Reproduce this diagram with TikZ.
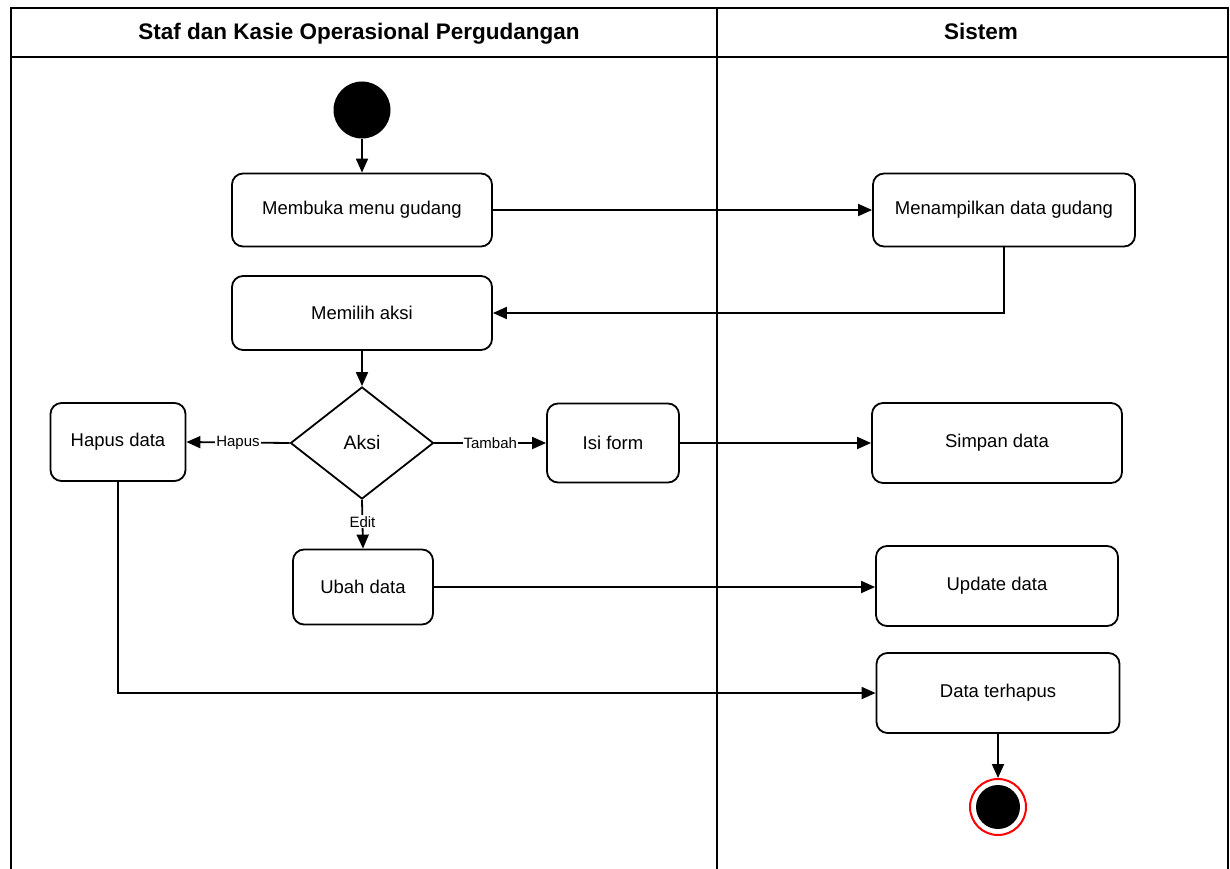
\documentclass[tikz,border=0pt]{standalone}
\usepackage{fontspec}
\setmainfont{Liberation Sans}
\usetikzlibrary{shapes.geometric,arrows.meta}
\begin{document}
\begin{tikzpicture}[x=1pt,y=-1pt,
  lane/.style={line width=1.8pt},
  lanetitle/.style={anchor=base,font=\fontsize{22.5}{26}\selectfont\bfseries},
  act/.style={draw,line width=1.8pt,rounded corners=11pt,fill=white,align=center,
    font=\fontsize{18.5}{22}\selectfont,inner sep=0pt},
  flow/.style={line width=1.8pt,-{Triangle[length=14pt,width=12pt]}},
  guard/.style={fill=white,inner sep=1pt,font=\fontsize{15}{18}\selectfont},
  decision/.style={draw,diamond,line width=1.8pt,fill=white,inner sep=0pt,
    minimum width=143pt,minimum height=112pt,font=\fontsize{19.5}{23}\selectfont},
]
\useasboundingbox (0,0) rectangle (1230,869);

% swimlane frame
\draw[lane] (11,869) -- (11,8) -- (1228,8) -- (1228,869);
\draw[lane] (11,57) -- (1228,57);
\draw[lane] (717,8) -- (717,869);
\node[lanetitle] (laneA) at (359,40) {Staf dan Kasie Operasional Pergudangan};
\node[lanetitle] (laneB) at (981,40) {Sistem};

% start and end
\node[circle,fill=black,minimum size=57pt,inner sep=0pt] (start) at (362,110) {};
\node[circle,draw=red,line width=2pt,fill=white,minimum size=56pt,inner sep=0pt] (endo) at (998,807) {};
\node[circle,fill=black,minimum size=44pt,inner sep=0pt] (endi) at (998,807) {};

% activities
\node[act,minimum width=260pt,minimum height=73pt] (buka) at (362,210) {Membuka menu gudang};
\node[act,minimum width=262pt,minimum height=73pt] (tampil) at (1004,210) {Menampilkan data gudang};
\node[act,minimum width=260pt,minimum height=74pt] (pilih) at (362,313) {Memilih aksi};
\node[decision] (aksi) at (362,443) {Aksi};
\node[act,minimum width=135pt,minimum height=78pt] (hapus) at (118,442) {Hapus data};
\node[act,minimum width=132pt,minimum height=79pt] (isi) at (613,443) {Isi form};
\node[act,minimum width=250pt,minimum height=80pt] (simpan) at (997,443) {Simpan data};
\node[act,minimum width=140pt,minimum height=75pt] (ubah) at (363,587) {Ubah data};
\node[act,minimum width=242pt,minimum height=80pt] (update) at (997,586) {Update data};
\node[act,minimum width=243pt,minimum height=80pt] (terhapus) at (998,693) {Data terhapus};

\coordinate (hapusbend) at (hapus.south |- terhapus.west);

% flows
\draw[flow] (start) -- (buka);
\draw[flow] (buka) -- (tampil);
\draw[flow] (tampil.south) |- (pilih.east);
\draw[flow] (pilih) -- (aksi);
\draw[flow] (aksi.west) -- node[guard] (lh) {Hapus} (hapus.east);
\draw[flow] (aksi.east) -- node[guard] (lt) {Tambah} (isi.west);
\draw[flow] (aksi.south) -- node[guard,pos=0.45] (le) {Edit} (ubah.north);
\draw[flow] (isi.east) -- (simpan.west);
\draw[flow] (ubah.east) -- (update.west |- ubah.east);
\draw[flow] (hapus.south) -- (hapusbend) -- (terhapus.west);
\draw[flow] (terhapus.south) -- (endo.north);
\end{tikzpicture}
\end{document}
